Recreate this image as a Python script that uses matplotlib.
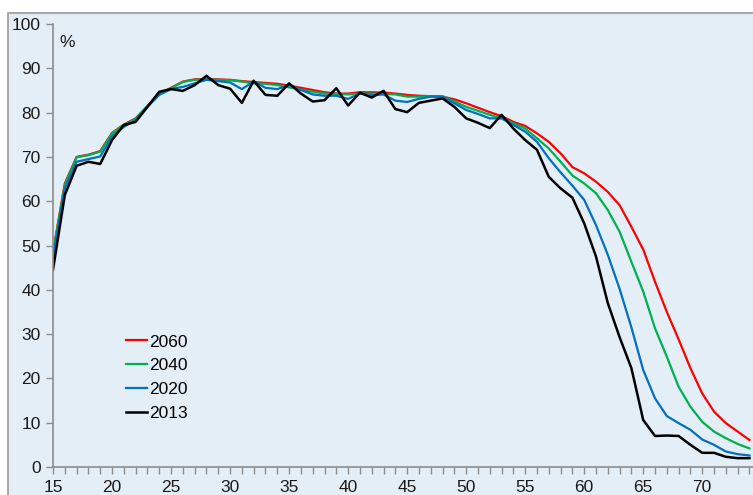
import numpy as np
import matplotlib
matplotlib.use('Agg')
import matplotlib.pyplot as plt
from matplotlib.patches import Rectangle

plt.rcParams['font.family'] = ['Liberation Sans', 'DejaVu Sans']

# participation rate by age
ages = list(range(15, 75))

rate_2060 = [48.5, 64.0, 70.0, 70.5, 71.3, 75.4, 77.3, 78.7, 81.5, 84.3,
             85.6, 87.0, 87.5, 87.6, 87.5, 87.4, 87.1, 86.9, 86.7, 86.5,
             86.1, 85.6, 85.1, 84.6, 84.3, 84.3, 84.6, 84.6, 84.5, 84.3,
             84.0, 83.8, 83.7, 83.6, 83.0, 82.1, 81.1, 80.1, 79.2, 77.9,
             77.0, 75.3, 73.4, 70.8, 67.7, 66.3, 64.4, 62.1, 59.1, 54.2,
             49.1, 41.8, 35.0, 28.8, 22.3, 16.6, 12.5, 9.9, 8.0, 6.1]

rate_2040 = [48.3, 63.7, 69.9, 70.4, 71.2, 75.3, 77.2, 78.6, 81.4, 84.2,
             85.5, 86.9, 87.4, 87.5, 87.4, 87.3, 87.0, 86.6, 86.5, 86.2,
             85.7, 85.2, 84.7, 84.3, 84.2, 84.1, 84.3, 84.3, 84.2, 84.1,
             83.6, 83.6, 83.7, 83.7, 82.5, 81.3, 80.4, 79.5, 78.7, 77.6,
             76.4, 74.2, 71.9, 68.9, 65.8, 64.0, 61.8, 58.0, 53.1, 46.3,
             39.6, 31.3, 24.9, 18.1, 13.6, 10.2, 8.0, 6.5, 5.2, 4.2]

rate_2020 = [47.2, 62.9, 68.9, 69.5, 70.1, 74.6, 76.8, 78.3, 81.3, 84.0,
             85.3, 85.8, 86.6, 87.4, 87.1, 86.8, 85.3, 87.0, 85.6, 85.3,
             86.2, 85.1, 84.1, 83.8, 83.8, 83.1, 84.3, 83.9, 84.1, 82.7,
             82.4, 83.1, 83.6, 83.6, 82.1, 80.6, 79.7, 78.7, 78.7, 77.2,
             75.7, 73.4, 69.7, 66.5, 63.5, 60.3, 54.6, 47.9, 40.2, 31.5,
             21.9, 15.5, 11.5, 9.9, 8.4, 6.2, 5.0, 3.5, 2.9, 2.6]

rate_2013 = [44.5, 61.4, 68.0, 68.9, 68.4, 73.8, 77.2, 77.9, 81.3, 84.7,
             85.3, 84.9, 86.2, 88.3, 86.2, 85.4, 82.2, 87.2, 84.0, 83.8,
             86.6, 84.3, 82.5, 82.8, 85.5, 81.6, 84.5, 83.4, 84.9, 80.8,
             80.1, 82.2, 82.7, 83.2, 81.3, 78.7, 77.7, 76.5, 79.5, 76.4,
             73.8, 71.6, 65.5, 62.9, 60.8, 55.0, 47.5, 37.0, 29.3, 22.3,
             10.6, 7.0, 7.1, 7.0, 5.0, 3.2, 3.2, 2.3, 2.0, 2.0]

bg = '#E4EEF7'
axis_col = '#8C8C8C'

fig = plt.figure(figsize=(7.53, 4.95), dpi=100)
fig.patch.set_facecolor('white')
# panel background with grey border
fig.patches.append(Rectangle((8 / 753, -0.1), 1.2, 1 - 13 / 495 + 0.1,
                             transform=fig.transFigure, facecolor=bg,
                             edgecolor='#9A9A9A', linewidth=1.2, zorder=-5))

ax = fig.add_axes([53 / 753, 28 / 495, 700 / 753, 443 / 495])
ax.set_facecolor('none')
ax.set_zorder(2)

ax.plot(ages, rate_2060, color='#FF0000', lw=1.6, label='2060')
ax.plot(ages, rate_2040, color='#00B050', lw=1.6, label='2040')
ax.plot(ages, rate_2020, color='#0070C0', lw=1.6, label='2020')
ax.plot(ages, rate_2013, color='black', lw=1.8, label='2013')

ax.set_xlim(15, 74.3)
ax.set_ylim(0, 100)
ax.set_xticks(range(15, 75, 5))
ax.set_xticks(range(15, 75), minor=True)
ax.set_yticks(range(0, 101, 10))

for s in ['top', 'right']:
    ax.spines[s].set_visible(False)
for s in ['left', 'bottom']:
    ax.spines[s].set_color(axis_col)
    ax.spines[s].set_linewidth(1.2)

ax.tick_params(axis='both', which='both', direction='out', color=axis_col,
               width=1.0, labelsize=12.5, labelcolor='#1A1A1A')
ax.tick_params(axis='y', length=5, pad=4)
ax.tick_params(axis='x', which='both', length=5, pad=4)

ax.text(15.5, 95.8, '%', fontsize=12.5, color='#1A1A1A', va='center', ha='left')

ax.legend(loc='upper left', bbox_to_anchor=(0.095, 0.315), frameon=False,
          fontsize=12.5, handlelength=1.2, handletextpad=0.1, labelspacing=0.5,
          borderaxespad=0)

plt.savefig('out.png', dpi=100, facecolor=fig.get_facecolor())
